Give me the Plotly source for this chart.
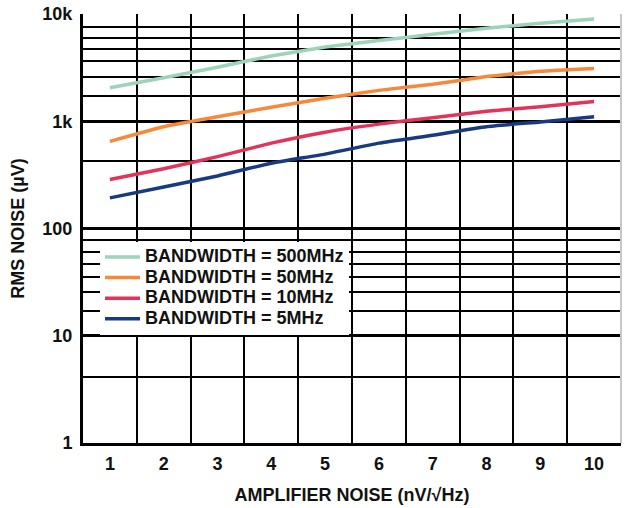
import plotly.graph_objects as go

# ---- data ----
noise_nv = [1, 2, 3, 4, 5, 6, 7, 8, 9, 10]
bw_500mhz = [2050, 2540, 3190, 4060, 4920, 5660, 6460, 7380, 8200, 9000]
bw_50mhz = [650, 890, 1100, 1350, 1640, 1940, 2210, 2610, 2920, 3100]
bw_10mhz = [286, 361, 468, 625, 791, 940, 1080, 1240, 1365, 1527]
bw_5mhz = [193, 244, 309, 406, 494, 625, 741, 889, 985, 1100]

series_names = ["BANDWIDTH = 500MHz", "BANDWIDTH = 50MHz", "BANDWIDTH = 10MHz", "BANDWIDTH = 5MHz"]
series_colors = ["#9dd3b9", "#f7893b", "#e2345a", "#173a80"]

y_tick_vals = [1, 10, 100, 1000, 10000]
y_tick_text = ["1", "10", "100", "1k", "10k"]
y_grid_vals = [4.13, 17, 25.4, 35.5, 47, 60, 77.6, 427, 1710, 2590, 3630, 4680, 6030, 7590]
x_tick_vals = noise_nv
x_grid_vals = [1.5, 2.5, 3.5, 4.5, 5.5, 6.5, 7.5, 8.5, 9.5]

FONT = "Arial, Liberation Sans, Helvetica, sans-serif"
FS = 18

fig = go.Figure()
for name, ys, col in zip(series_names, [bw_500mhz, bw_50mhz, bw_10mhz, bw_5mhz], series_colors):
    fig.add_trace(go.Scatter(x=noise_nv, y=ys, mode="lines",
                             name=f'<span style="font-size:{FS}px"><b>{name}</b></span>',
                             line=dict(color=col, width=3.5, shape="spline", smoothing=0.4)))

fig.update_layout(
    width=626, height=508,
    margin=dict(l=83, r=5, t=14, b=65),
    paper_bgcolor="white", plot_bgcolor="white",
    font=dict(family=FONT, size=FS, color="#111"),
    showlegend=True,
    legend=dict(x=0.0316, y=0.469, xanchor="left", yanchor="top",
                bgcolor="white", borderwidth=0, itemwidth=35,
                font=dict(family=FONT, size=13.5, color="#111"),
                tracegroupgap=0),
    xaxis=dict(
        range=[0.5, 10.5], tickmode="array", tickvals=x_tick_vals,
        ticktext=[f"<b>{v}</b>" for v in x_tick_vals],
        showgrid=False, zeroline=False,
        showline=True, linecolor="black", linewidth=3,
        ticks="", ticklabelstandoff=2,
        tickfont=dict(family=FONT, size=FS),
        minor=dict(tickmode="array", tickvals=x_grid_vals, showgrid=True,
                   gridcolor="black", gridwidth=2, ticks=""),
        title=dict(text="<b>AMPLIFIER NOISE (nV/√Hz)</b>", standoff=16,
                   font=dict(family=FONT, size=FS)),
    ),
    yaxis=dict(
        type="log", range=[0, 4], tickmode="array", tickvals=y_tick_vals,
        ticktext=[f"<b>{t}</b>" for t in y_tick_text],
        showgrid=True, gridcolor="black", gridwidth=2.5, zeroline=False,
        showline=True, linecolor="black", linewidth=3,
        ticks="", ticklabelstandoff=4,
        tickfont=dict(family=FONT, size=FS),
        minor=dict(tickmode="array", tickvals=y_grid_vals, showgrid=True,
                   gridcolor="black", gridwidth=2, ticks=""),
        title=dict(text="<b>RMS NOISE (µV)</b>", standoff=14,
                   font=dict(family=FONT, size=FS)),
    ),
)
# light grey frame on the right side
fig.add_shape(type="line", xref="x domain", yref="y domain", x0=1, x1=1, y0=0, y1=1,
              line=dict(color="#c8c8c8", width=2))

fig.write_html("out.html")
